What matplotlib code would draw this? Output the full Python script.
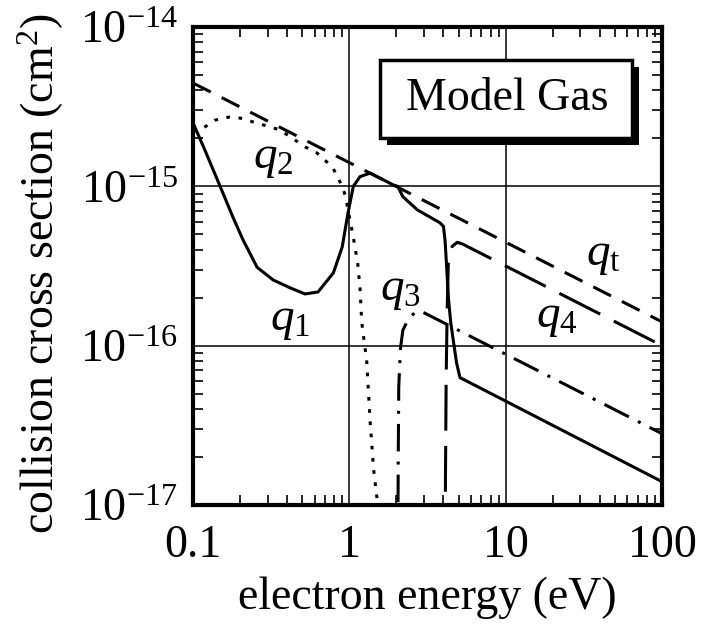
import numpy as np
import matplotlib
matplotlib.use("Agg")
import matplotlib.pyplot as plt
from matplotlib.patches import Rectangle
from matplotlib.ticker import LogLocator, NullFormatter, FixedLocator, FixedFormatter

plt.rcParams['font.family'] = 'Liberation Serif'
plt.rcParams['mathtext.fontset'] = 'custom'
plt.rcParams['mathtext.rm'] = 'Liberation Serif'
plt.rcParams['mathtext.it'] = 'Liberation Serif:italic'

# total cross section (straight line, E^-0.5)
E_qt = [0.1, 100]
qt = [4.45e-15, 1.41e-16]

# q1 (solid)
E_q1 = [0.1, 0.119, 0.149, 0.18, 0.209, 0.257, 0.326, 0.42, 0.52, 0.63, 0.79, 0.9,
        0.98, 1.06, 1.17, 1.36, 1.91, 2.04, 2.2, 2.73, 3.8, 4.0, 4.1, 4.2, 4.3,
        4.45, 4.64, 4.85, 5.1, 100]
q1 = [2.5e-15, 1.69e-15, 1.0e-15, 6.4e-16, 4.6e-16, 3.1e-16, 2.58e-16, 2.3e-16,
      2.11e-16, 2.17e-16, 2.86e-16, 4.16e-16, 6.8e-16, 1.0e-15, 1.15e-15, 1.21e-15,
      1.02e-15, 1.0e-15, 8.6e-16, 7.1e-16, 5.9e-16, 5.6e-16, 4.5e-16, 3.0e-16,
      2.0e-16, 1.4e-16, 1.05e-16, 7.8e-17, 6.3e-17, 1.4e-17]

# q2 (dotted)
E_q2 = [0.1, 0.116, 0.138, 0.17, 0.2, 0.31, 0.36, 0.52, 0.62, 0.78, 0.9, 0.94,
        1.06, 1.13, 1.17, 1.2, 1.29, 1.36, 1.43, 1.52]
q2 = [2.2e-15, 2.32e-15, 2.6e-15, 2.72e-15, 2.68e-15, 2.36e-15, 2.26e-15, 1.77e-15,
      1.62e-15, 1.32e-15, 1.0e-15, 8.8e-16, 4.8e-16, 3.3e-16, 2.3e-16, 1.4e-16,
      8.1e-17, 3.27e-17, 1.66e-17, 1.0e-17]

# q3 (dash-dot)
E_q3 = [2.04, 2.055, 2.07, 2.12, 2.2, 2.36, 2.6, 2.85, 100]
q3 = [5e-18, 2e-17, 5.5e-17, 9.5e-17, 1.25e-16, 1.44e-16, 1.6e-16, 1.65e-16, 2.8e-17]

# q4 (long dash)
E_q4 = [4.1, 4.12, 4.16, 4.22, 4.3, 4.55, 4.9, 5.3, 100]
q4 = [5e-18, 1.5e-17, 6e-17, 1.6e-16, 3.5e-16, 4.2e-16, 4.45e-16, 4.34e-16, 1.0e-16]

x_ticks = [0.1, 1, 10, 100]
x_ticklabels = ['0.1', '1', '10', '100']
y_ticks = [1e-17, 1e-16, 1e-15, 1e-14]
y_ticklabels = [r'$10^{-17}$', r'$10^{-16}$', r'$10^{-15}$', r'$10^{-14}$']

fs = 33
lw = 2.2

fig = plt.figure(figsize=(7.02, 6.28), dpi=100)
ax = fig.add_axes([0.275, 0.196, 0.668, 0.761])
ax.set_xscale('log')
ax.set_yscale('log')
ax.set_xlim(0.1, 100)
ax.set_ylim(1e-17, 1e-14)

for v in x_ticks[1:-1]:
    ax.axvline(v, color='black', lw=1.1, zorder=1)
for v in y_ticks[1:-1]:
    ax.axhline(v, color='black', lw=1.1, zorder=1)

ax.plot(E_qt, qt, color='black', lw=lw, dashes=(6.5, 4), dash_capstyle='butt')
ax.plot(E_q1, q1, color='black', lw=lw)
ax.plot(E_q2, q2, color='black', lw=lw, dashes=(1.2, 2.8), dash_capstyle='butt')
ax.plot(E_q3, q3, color='black', lw=lw, dashes=(9, 3.3, 1, 3.3), dash_capstyle='butt')
ax.plot(E_q4, q4, color='black', lw=lw, dashes=(15, 5), dash_capstyle='butt')

tk = dict(fontsize=fs + 1, ha='left', va='baseline')
ax.text(0.243, 1.30e-15, r'$q_2$', **tk)
ax.text(32.6, 3.2e-16, r'$q_\mathrm{t}$', **tk)
ax.text(15.6, 1.31e-16, r'$q_4$', **tk)
ax.text(1.58, 1.93e-16, r'$q_3$', **tk)
ax.text(0.312, 1.25e-16, r'$q_1$', **tk)

# "Model Gas" box with shadow
ax.add_patch(Rectangle((0.414, 0.753), 0.537, 0.163, transform=ax.transAxes,
                       facecolor='black', edgecolor='black', lw=0, zorder=5))
ax.add_patch(Rectangle((0.399, 0.768), 0.537, 0.163, transform=ax.transAxes,
                       facecolor='white', edgecolor='black', lw=2.5, zorder=6))
ax.text(0.670, 0.849, 'Model Gas', transform=ax.transAxes, fontsize=fs,
        ha='center', va='center', zorder=7)

ax.xaxis.set_major_locator(FixedLocator(x_ticks))
ax.xaxis.set_major_formatter(FixedFormatter(x_ticklabels))
ax.yaxis.set_major_locator(FixedLocator(y_ticks))
ax.yaxis.set_major_formatter(FixedFormatter(y_ticklabels))
ax.xaxis.set_minor_locator(LogLocator(base=10, subs=np.arange(2, 10)))
ax.yaxis.set_minor_locator(LogLocator(base=10, subs=np.arange(2, 10)))
ax.xaxis.set_minor_formatter(NullFormatter())
ax.yaxis.set_minor_formatter(NullFormatter())
ax.tick_params(which='both', direction='in', top=True, right=True, labelsize=fs)
ax.tick_params(axis='x', which='major', length=0, pad=14)
ax.tick_params(axis='y', which='major', length=0, pad=11)
ax.tick_params(which='minor', length=7, width=1.2)
for s in ax.spines.values():
    s.set_linewidth(3)

ax.set_xlabel('electron energy (eV)', fontsize=fs, labelpad=7)
ax.set_ylabel(r'collision cross section (cm$^2$)', fontsize=fs)
ax.yaxis.set_label_coords(-0.27, 0.483)

fig.savefig('out.png', dpi=100)
